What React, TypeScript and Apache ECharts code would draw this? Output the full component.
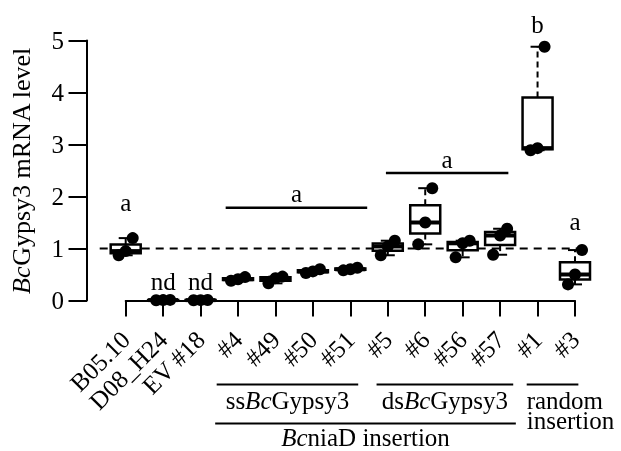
import React, { useEffect, useRef } from 'react';
import * as echarts from 'echarts';

// ---- data ----
const categories = ['B05.10', 'D08_H24', 'EV #18', '#4', '#49', '#50', '#51', '#5', '#6', '#56', '#57', '#1', '#3'];
// three biological replicates per strain (highest, middle, lowest)
const rep1 = [1.2, 0.012, 0.01, 0.45, 0.46, 0.6, 0.63, 1.15, 2.16, 1.15, 1.38, 4.88, 0.97];
const rep2 = [0.95, 0.008, 0.007, 0.41, 0.43, 0.56, 0.6, 1.04, 1.5, 1.1, 1.25, 2.93, 0.5];
const rep3 = [0.87, 0.005, 0.004, 0.38, 0.33, 0.53, 0.58, 0.87, 1.08, 0.83, 0.88, 2.89, 0.31];
const yTicks = [0, 1, 2, 3, 4, 5];
const referenceLevel = 1;
// significance letters per strain and the value at which they are written
const sigLetters = ['a', 'nd', 'nd', '', '', '', '', '', '', '', '', 'b', 'a'];
const sigLevels = [1.89, 0.36, 0.36, 0, 0, 0, 0, 0, 0, 0, 0, 5.3, 1.51];
// bracket annotations: first/last category (fractional), level, letter
const bracketFrom = [2.67, 6.95];
const bracketTo = [6.45, 10.22];
const bracketLevel = [1.785, 2.45];
const bracketLetter = ['a', 'a'];
// group labels beneath the axis
const groupFrom = [2.43, 6.7, 10.71, 2.39];
const groupTo = [6.21, 10.35, 12.09, 10.42];
const groupText = ['{n|ss}{i|Bc}{n|Gypsy3}', '{n|ds}{i|Bc}{n|Gypsy3}', 'random\ninsertion', '{i|Bc}{n|niaD insertion}'];

const FONT = 'Liberation Serif';
const FS = 25;
const TITLE_FS = 26;
const INK = '#000';

function quantile(asc: number[], p: number) {
  const h = (asc.length - 1) * p;
  const lo = Math.floor(h);
  const e = h - lo;
  return lo + 1 < asc.length ? asc[lo] + e * (asc[lo + 1] - asc[lo]) : asc[lo];
}

export default function App() {
  const ref = useRef<HTMLDivElement>(null);
  useEffect(() => {
    if (!ref.current) return;
    const chart = echarts.init(ref.current, null, { renderer: 'svg' });

    const boxData = categories.map((_, i) => {
      const v = [rep1[i], rep2[i], rep3[i]].sort((a, b) => a - b);
      return [i, v[0], quantile(v, 0.25), quantile(v, 0.5), quantile(v, 0.75), v[v.length - 1]];
    });
    const dotData: number[][] = [];
    categories.forEach((_, i) => {
      dotData.push([i, rep1[i], 0], [i, rep2[i], 1], [i, rep3[i], 2]);
    });
    const jitterPx = [7, 0, -7];
    const rich = {
      n: { fontFamily: FONT, fontSize: FS, color: INK },
      i: { fontFamily: FONT, fontSize: FS, color: INK, fontStyle: 'italic' },
    };
    const titleRich = {
      n: { fontFamily: FONT, fontSize: TITLE_FS, color: INK },
      i: { fontFamily: FONT, fontSize: TITLE_FS, color: INK, fontStyle: 'italic' },
    };

    const xAt = (api: any, f: number) => {
      const a = api.coord([0, 0])[0];
      const b = api.coord([1, 0])[0];
      return a + (b - a) * f;
    };

    const option: any = {
      animation: false,
      grid: { left: 125.7, right: 46, top: 40.5, bottom: 150.5 },
      xAxis: {
        type: 'category',
        data: categories,
        boundaryGap: false,
        offset: 11,
        axisLine: { lineStyle: { color: INK, width: 2 } },
        axisTick: { length: 16, lineStyle: { color: INK, width: 2 } },
        axisLabel: { interval: 0, rotate: 45, margin: 24, color: INK, fontFamily: FONT, fontSize: FS },
        splitLine: { show: false },
      },
      yAxis: {
        type: 'value',
        min: yTicks[0],
        max: yTicks[yTicks.length - 1],
        interval: 1,
        offset: 38.7,
        name: '{i|Bc}{n|Gypsy3 mRNA level}',
        nameLocation: 'middle',
        nameGap: 53,
        nameRotate: 90,
        nameTextStyle: { fontFamily: FONT, fontSize: TITLE_FS, color: INK, rich: titleRich },
        axisLine: { show: true, lineStyle: { color: INK, width: 2 } },
        axisTick: { show: true, length: 18.5, lineStyle: { color: INK, width: 2 } },
        axisLabel: { margin: 23, color: INK, fontFamily: FONT, fontSize: FS },
        splitLine: { show: false },
      },
      series: [
        {
          type: 'custom',
          name: 'reference',
          data: [[referenceLevel]],
          renderItem: (params: any, api: any) => {
            const y = api.coord([0, api.value(0)])[1];
            const x0 = api.coord([0, 0])[0] - 26;
            const x1 = api.coord([categories.length - 1, 0])[0] + 11;
            return {
              type: 'line',
              shape: { x1: x0, y1: y, x2: x1, y2: y },
              style: { stroke: INK, lineWidth: 2, lineDash: [8, 6] },
            };
          },
        },
        {
          type: 'custom',
          name: 'box',
          data: boxData,
          renderItem: (params: any, api: any) => {
            const i = api.value(0);
            const [x, yMin] = api.coord([i, api.value(1)]);
            const yQ1 = api.coord([i, api.value(2)])[1];
            const yMed = api.coord([i, api.value(3)])[1];
            const yQ3 = api.coord([i, api.value(4)])[1];
            const yMax = api.coord([i, api.value(5)])[1];
            const hw = 15;
            const cap = 7;
            return {
              type: 'group',
              children: [
                { type: 'line', shape: { x1: x, y1: yQ3, x2: x, y2: yMax }, style: { stroke: INK, lineWidth: 2, lineDash: [6, 4] } },
                { type: 'line', shape: { x1: x, y1: yQ1, x2: x, y2: yMin }, style: { stroke: INK, lineWidth: 2, lineDash: [6, 4] } },
                { type: 'line', shape: { x1: x - cap, y1: yMax, x2: x + cap, y2: yMax }, style: { stroke: INK, lineWidth: 2 } },
                { type: 'line', shape: { x1: x - cap, y1: yMin, x2: x + cap, y2: yMin }, style: { stroke: INK, lineWidth: 2 } },
                { type: 'rect', shape: { x: x - hw, y: yQ3, width: hw * 2, height: Math.max(yQ1 - yQ3, 0.5) }, style: { fill: '#fff', stroke: INK, lineWidth: 2.5 } },
                { type: 'line', shape: { x1: x - hw, y1: yMed, x2: x + hw, y2: yMed }, style: { stroke: INK, lineWidth: 4 } },
              ],
            };
          },
        },
        {
          type: 'custom',
          name: 'points',
          data: dotData,
          renderItem: (params: any, api: any) => {
            const [x, y] = api.coord([api.value(0), api.value(1)]);
            return {
              type: 'circle',
              shape: { cx: x + jitterPx[api.value(2)], cy: y, r: 6 },
              style: { fill: INK },
            };
          },
        },
        {
          type: 'custom',
          name: 'letters',
          data: categories.map((_, i) => [i, sigLevels[i]]),
          renderItem: (params: any, api: any) => {
            const i = params.dataIndex;
            if (!sigLetters[i]) return null;
            const [x, y] = api.coord([api.value(0), api.value(1)]);
            return {
              type: 'text',
              x, y,
              style: { text: sigLetters[i], fill: INK, fontFamily: FONT, fontSize: FS, align: 'center', verticalAlign: 'middle' },
            };
          },
        },
        {
          type: 'custom',
          name: 'brackets',
          data: bracketLevel.map((lv, k) => [k, lv]),
          renderItem: (params: any, api: any) => {
            const k = params.dataIndex;
            const y = api.coord([0, api.value(1)])[1];
            const x0 = xAt(api, bracketFrom[k]);
            const x1 = xAt(api, bracketTo[k]);
            return {
              type: 'group',
              children: [
                { type: 'line', shape: { x1: x0, y1: y, x2: x1, y2: y }, style: { stroke: INK, lineWidth: 2.5 } },
                { type: 'text', x: (x0 + x1) / 2, y: y - 14, style: { text: bracketLetter[k], fill: INK, fontFamily: FONT, fontSize: FS, align: 'center', verticalAlign: 'middle' } },
              ],
            };
          },
        },
        {
          type: 'custom',
          name: 'groups',
          data: groupText.map((_, k) => [k]),
          renderItem: (params: any, api: any) => {
            const k = params.dataIndex;
            const axisY = api.coord([0, 0])[1] + 11;
            const x0 = xAt(api, groupFrom[k]);
            const x1 = xAt(api, groupTo[k]);
            const lower = k === 3;
            const lineY = axisY + (lower ? 112 : 73);
            const children: any[] = [
              { type: 'line', shape: { x1: x0, y1: lineY, x2: x1, y2: lineY }, style: { stroke: INK, lineWidth: 2 } },
            ];
            if (k === 2) {
              children.push({ type: 'text', x: x0, y: lineY + 6, style: { text: groupText[k], fill: INK, fontFamily: FONT, fontSize: FS, lineHeight: 20, align: 'left', verticalAlign: 'top' } });
            } else {
              children.push({ type: 'text', x: (x0 + x1) / 2, y: lineY + (lower ? 14 : 16), style: { text: groupText[k], rich, fill: INK, fontFamily: FONT, fontSize: FS, align: 'center', verticalAlign: 'middle' } });
            }
            return { type: 'group', children };
          },
        },
      ],
    };
    chart.setOption(option);
    return () => chart.dispose();
  }, []);
  return <div ref={ref} style={{ position: 'fixed', left: 0, top: 0, width: 621, height: 451 }} />;
}
